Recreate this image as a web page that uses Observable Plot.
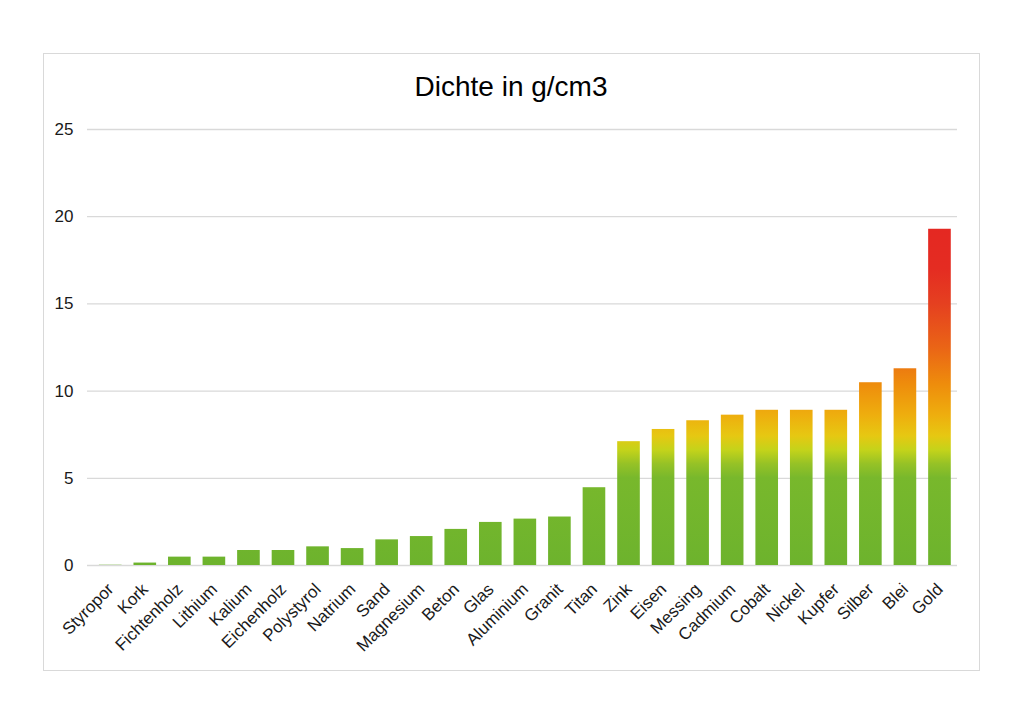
<!DOCTYPE html>
<html><head><meta charset="utf-8">
<script src="https://cdn.jsdelivr.net/npm/d3@7"></script>
<script src="https://cdn.jsdelivr.net/npm/@observablehq/plot@0.6"></script>
<style>
body{margin:0;background:#fff;font-family:"Liberation Sans",Arial,sans-serif;}
#wrap{position:relative;width:1024px;height:724px;overflow:hidden;}
#frame{position:absolute;left:43px;top:53px;width:935px;height:616px;border:1px solid #d9d9d9;}
#title{position:absolute;left:0;width:1022px;top:71px;text-align:center;font-size:28px;color:#000;}
#chart{position:absolute;left:0;top:0;}
</style></head><body>
<div id="wrap"><div id="frame"></div><div id="title">Dichte in g/cm3</div><div id="chart"></div></div>
<script>
const materials = ["Styropor","Kork","Fichtenholz","Lithium","Kalium","Eichenholz","Polystyrol","Natrium","Sand","Magnesium","Beton","Glas","Aluminium","Granit","Titan","Zink","Eisen","Messing","Cadmium","Cobalt","Nickel","Kupfer","Silber","Blei","Gold"];
const densities = [0.015,0.14,0.48,0.48,0.86,0.86,1.07,0.97,1.47,1.66,2.07,2.47,2.66,2.78,4.46,7.1,7.8,8.3,8.62,8.9,8.9,8.9,10.48,11.28,19.28];
const yTicks = [0,5,10,15,20,25];
// gradient stops: [density value, colour]
const gradientStops = [[0,"#6db32d"],[5,"#78b82c"],[5.8,"#96c226"],[6.6,"#c4d31a"],[7.4,"#e6c812"],[8.6,"#eeae0e"],[10.4,"#ee8c0c"],[12.5,"#ea6416"],[15,"#e54020"],[17,"#e42c22"],[19.3,"#e42822"]];

const data = materials.map((m,i)=>({material:m, density:densities[i]}));

const chart = Plot.plot({
  width:1024, height:724,
  marginLeft:87, marginRight:61.3, marginTop:129, marginBottom:159,
  style:{fontFamily:"'Liberation Sans', Arial, sans-serif", fontSize:"17px", color:"#1a1a1a", background:"transparent", overflow:"visible"},
  x:{domain:materials, padding:0.345, round:false, label:null},
  y:{domain:[0,25], label:null},
  marks:[
    Plot.gridY(yTicks, {stroke:"#d9d9d9", strokeOpacity:1, strokeWidth:1.3, insetRight:5.7}),
    Plot.barY(data, {x:"material", y:"density", fill:"url(#densGrad)"}),
    Plot.axisX({tickSize:0, tickRotate:-45, tickPadding:21, dx:0, fontSize:17, label:null}),
    Plot.axisY(yTicks, {tickSize:0, tickPadding:14, fontSize:17, label:null})
  ]
});

const ys = chart.scale("y");
const y0 = ys.apply(0), y1 = ys.apply(19.3);
const svg = d3.select(chart);
const grad = svg.insert("defs", ":first-child").append("linearGradient")
  .attr("id","densGrad").attr("gradientUnits","userSpaceOnUse")
  .attr("x1",0).attr("x2",0).attr("y1",y0).attr("y2",y1);
gradientStops.forEach(([v,c])=>{
  grad.append("stop").attr("offset",(v/19.3)).attr("stop-color",c);
});
document.getElementById("chart").appendChild(chart);
</script>
</body></html>
